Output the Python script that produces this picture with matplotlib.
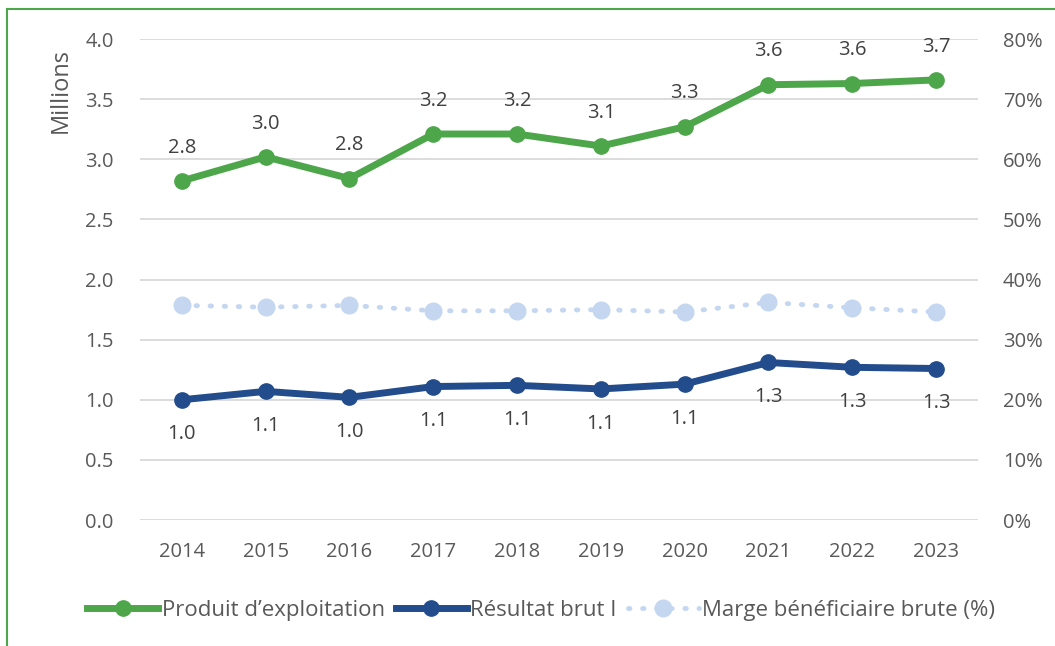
import matplotlib.pyplot as plt
from matplotlib.lines import Line2D
from matplotlib.ticker import FuncFormatter

plt.rcParams['font.family'] = ['Open Sans', 'DejaVu Sans']

years = ['2014', '2015', '2016', '2017', '2018', '2019', '2020', '2021', '2022', '2023']
produit = [2.82, 3.02, 2.84, 3.21, 3.21, 3.11, 3.27, 3.62, 3.63, 3.66]
resultat = [1.00, 1.07, 1.02, 1.11, 1.12, 1.09, 1.13, 1.31, 1.27, 1.26]
marge = [35.7, 35.4, 35.7, 34.8, 34.8, 35.0, 34.6, 36.2, 35.3, 34.6]

green = '#4EA64B'
blue = '#224C8C'
light = '#C5D7F0'
grey = '#595959'

fig = plt.figure(figsize=(10.55, 6.46), dpi=100)
ax = fig.add_axes([0.1327, 0.195, 0.7943, 0.7446])
ax2 = ax.twinx()

x = list(range(len(years)))

ax2.plot(x, marge, color=light, lw=3.5, ls=(0, (0.3, 2.6)), dash_capstyle='round',
         marker='o', ms=12, zorder=2)
ax.plot(x, produit, color=green, lw=5, marker='o', ms=11, zorder=3)
ax.plot(x, resultat, color=blue, lw=5, marker='o', ms=11, zorder=3)
ax.set_zorder(ax2.get_zorder() + 1)
ax.patch.set_visible(False)

for i in x:
    ax.annotate(f'{produit[i]:.1f}', (i, produit[i]), xytext=(0, 24), textcoords='offset points',
                ha='center', va='center', fontsize=14.5, color='#404040')
    ax.annotate(f'{resultat[i]:.1f}', (i, resultat[i]), xytext=(0, -25), textcoords='offset points',
                ha='center', va='center', fontsize=14.5, color='#404040')

ax.set_xlim(-0.5, len(years) - 0.5)
ax.set_ylim(0, 4.0)
ax2.set_ylim(0, 80)
ax.set_yticks([0, 0.5, 1.0, 1.5, 2.0, 2.5, 3.0, 3.5, 4.0])
ax2.set_yticks(range(0, 81, 10))
ax.yaxis.set_major_formatter(FuncFormatter(lambda v, p: f'{v:.1f}'))
ax2.yaxis.set_major_formatter(FuncFormatter(lambda v, p: f'{v:.0f}%'))
ax.set_xticks(x)
ax.set_xticklabels(years)

ax.grid(axis='y', color='#D9D9D9', lw=1.3)
ax.set_axisbelow(True)
for a in (ax, ax2):
    for s in a.spines.values():
        s.set_visible(False)
    a.tick_params(length=0, labelsize=14.5, colors=grey)
ax.tick_params(axis='y', pad=19)
ax.tick_params(axis='x', pad=16)
ax2.tick_params(axis='y', pad=18)

ax.set_ylabel('Millions', fontsize=17, color=grey, va='center')
ax.yaxis.set_label_coords(-0.095, 0.892)

handles = [
    Line2D([], [], color=green, lw=5, marker='o', ms=11),
    Line2D([], [], color=blue, lw=5, marker='o', ms=11),
    Line2D([], [], color=light, lw=3.5, ls=(0, (0.3, 2.6)), dash_capstyle='round', marker='o', ms=12),
]
labels = ['Produit d\u2019exploitation', 'Résultat brut I', 'Marge bénéficiaire brute (%)']
fig.legend(handles, labels, loc='center', bbox_to_anchor=(0.513, 0.055), ncol=3, frameon=False,
           fontsize=16, labelcolor=grey, handlelength=3.2, handletextpad=0.15, columnspacing=0.5)

# green frame
fig.add_artist(Line2D([7 / 1055, 7 / 1055], [0, 1 - 9 / 646], color=green, lw=1.5, transform=fig.transFigure))
fig.add_artist(Line2D([7 / 1055, 1], [1 - 9 / 646, 1 - 9 / 646], color=green, lw=1.5, transform=fig.transFigure))

fig.savefig('out.png', dpi=100)
